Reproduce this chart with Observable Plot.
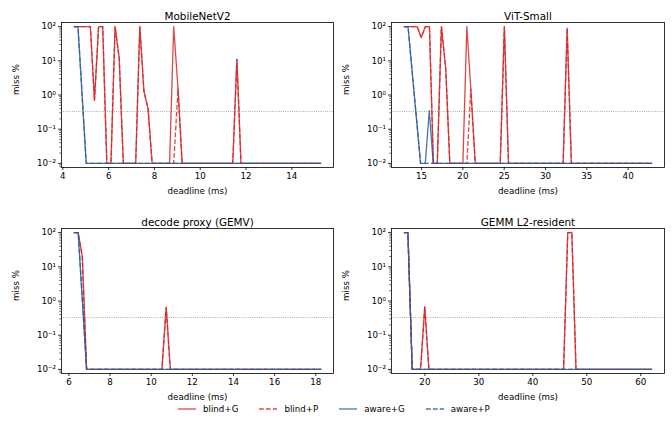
<!DOCTYPE html>
<html>
<head>
<meta charset="utf-8">
<script src="https://cdn.jsdelivr.net/npm/d3@7"></script>
<script src="https://cdn.jsdelivr.net/npm/@observablehq/plot@0.6"></script>
<style>
  html, body { margin: 0; padding: 0; background: #fff; }
  #fig { position: relative; width: 672px; height: 421px; overflow: hidden; font-family: "DejaVu Sans", sans-serif; }
  #fig > .panel { position: absolute; }
  #legend { position: absolute; left: 178px; top: 404px; display: flex; align-items: center; font-size: 8.7px; color: #000; }
  #legend .item { display: flex; align-items: center; margin-right: 21px; }
  #legend .item:last-child { margin-right: 0; }
  #legend svg { margin-right: 7px; }
</style>
</head>
<body>
<div id="fig"></div>
<script>
// ---------------- DATA ----------------
const seriesNames = ["blind+G", "blind+P", "aware+G", "aware+P"];
const panelTitles = ["MobileNetV2", "ViT-Small", "decode proxy (GEMV)", "GEMM L2-resident"];
const yTickValues = [0.01, 0.1, 1, 10, 100];
const yTickLabels = ["10\u207B\u00B2", "10\u207B\u00B9", "10\u2070", "10\u00B9", "10\u00B2"];
const missThreshold = 0.33;

// MobileNetV2
const mnv2XTicks = [4, 6, 8, 10, 12, 14];
const mnv2_blindG_x = [4.48, 5.20, 5.38, 5.56, 5.74, 5.92, 6.10, 6.28, 6.46, 6.64, 7.18, 7.36, 7.54, 7.72, 7.90, 8.66, 8.84, 9.03, 9.21, 11.42, 11.60, 11.78, 15.28];
const mnv2_blindG_y = [100, 100, 0.7, 100, 100, 0.01, 0.01, 100, 12, 0.01, 0.01, 100, 1.3, 0.4, 0.01, 0.01, 100, 1.5, 0.01, 0.01, 11, 0.01, 0.01];
const mnv2_blindP_x = [4.48, 5.20, 5.38, 5.56, 5.74, 5.92, 6.10, 6.28, 6.46, 6.64, 7.18, 7.36, 7.54, 7.72, 7.90, 8.84, 9.03, 9.21, 11.42, 11.60, 11.78, 15.28];
const mnv2_blindP_y = [100, 100, 0.7, 100, 100, 0.01, 0.01, 100, 12, 0.01, 0.01, 100, 1.3, 0.4, 0.01, 0.01, 1.5, 0.01, 0.01, 11, 0.01, 0.01];
const mnv2_awareG_x = [4.48, 4.66, 4.84, 5.02, 15.28];
const mnv2_awareG_y = [100, 100, 1.0, 0.01, 0.01];
const mnv2_awareP_x = [4.48, 4.66, 4.84, 5.02, 15.28];
const mnv2_awareP_y = [100, 100, 1.0, 0.01, 0.01];

// ViT-Small
const vitXTicks = [15, 20, 25, 30, 35, 40];
const vit_blindG_x = [12.86, 14.46, 14.96, 15.45, 15.95, 16.43, 16.90, 17.40, 17.92, 18.42, 20.00, 20.48, 20.96, 21.50, 24.52, 25.02, 25.52, 32.13, 32.62, 33.13, 42.90];
const vit_blindG_y = [100, 100, 48, 100, 100, 0.01, 0.01, 100, 6, 0.01, 0.01, 100, 1.5, 0.01, 0.01, 100, 0.01, 0.01, 90, 0.01, 0.01];
const vit_blindP_x = [12.86, 14.46, 14.96, 15.45, 15.95, 16.43, 16.90, 17.40, 17.92, 18.42, 20.48, 20.96, 21.50, 24.52, 25.02, 25.52, 32.13, 32.62, 33.13, 42.90];
const vit_blindP_y = [100, 100, 48, 100, 100, 0.01, 0.01, 100, 6, 0.01, 0.01, 1.5, 0.01, 0.01, 100, 0.01, 0.01, 90, 0.01, 0.01];
const vit_awareG_x = [12.86, 13.36, 14.88, 15.45, 15.93, 16.41, 42.90];
const vit_awareG_y = [100, 100, 0.01, 0.01, 0.35, 0.01, 0.01];
const vit_awareP_x = [12.86, 13.36, 14.88, 42.90];
const vit_awareP_y = [100, 100, 0.01, 0.01];

// decode proxy (GEMV)
const gemvXTicks = [6, 8, 10, 12, 14, 16, 18];
const gemv_blindG_x = [6.24, 6.45, 6.65, 6.86, 10.52, 10.73, 10.93, 18.26];
const gemv_blindG_y = [100, 100, 20, 0.01, 0.01, 0.65, 0.01, 0.01];
const gemv_blindP_x = [6.24, 6.45, 6.65, 6.86, 10.52, 10.73, 10.93, 18.26];
const gemv_blindP_y = [100, 100, 20, 0.01, 0.01, 0.65, 0.01, 0.01];
const gemv_awareG_x = [6.24, 6.45, 6.86, 18.26];
const gemv_awareG_y = [100, 100, 0.01, 0.01];
const gemv_awareP_x = [6.24, 6.45, 6.86, 18.26];
const gemv_awareP_y = [100, 100, 0.01, 0.01];

// GEMM L2-resident
const gemmXTicks = [20, 30, 40, 50, 60];
const gemm_blindG_x = [16.11, 16.85, 17.65, 19.20, 19.97, 20.74, 45.70, 46.47, 47.23, 48.00, 62.10];
const gemm_blindG_y = [100, 100, 0.01, 0.01, 0.68, 0.01, 0.01, 100, 100, 0.01, 0.01];
const gemm_blindP_x = [16.11, 16.85, 17.65, 19.20, 19.97, 20.74, 45.70, 46.47, 47.23, 48.00, 62.10];
const gemm_blindP_y = [100, 100, 0.01, 0.01, 0.68, 0.01, 0.01, 100, 100, 0.01, 0.01];
const gemm_awareG_x = [16.11, 16.85, 17.65, 62.10];
const gemm_awareG_y = [100, 100, 0.01, 0.01];
const gemm_awareP_x = [16.11, 16.85, 17.65, 62.10];
const gemm_awareP_y = [100, 100, 0.01, 0.01];

// ---------------- STYLE / LAYOUT ----------------
const RED = "#d62728", BLUE = "#2c5d9e";
const seriesStyle = {
  "blind+G": {stroke: RED, dash: null},
  "blind+P": {stroke: RED, dash: "4.8,2.1"},
  "aware+G": {stroke: BLUE, dash: null},
  "aware+P": {stroke: BLUE, dash: "4.8,2.1"}
};

function rows(xs, ys) { return xs.map((x, i) => ({deadline: x, miss: ys[i]})); }

const panels = [
  {title: panelTitles[0], ticks: mnv2XTicks, domain: [3.94, 15.82],
   series: [rows(mnv2_blindG_x, mnv2_blindG_y), rows(mnv2_blindP_x, mnv2_blindP_y), rows(mnv2_awareG_x, mnv2_awareG_y), rows(mnv2_awareP_x, mnv2_awareP_y)],
   left: 0, top: 0, width: 336, height: 205, mL: 61, mR: 3, mT: 22, mB: 38},
  {title: panelTitles[1], ticks: vitXTicks, domain: [11.36, 44.40],
   series: [rows(vit_blindG_x, vit_blindG_y), rows(vit_blindP_x, vit_blindP_y), rows(vit_awareG_x, vit_awareG_y), rows(vit_awareP_x, vit_awareP_y)],
   left: 336, top: 0, width: 336, height: 205, mL: 55, mR: 8, mT: 22, mB: 38},
  {title: panelTitles[2], ticks: gemvXTicks, domain: [5.64, 18.86],
   series: [rows(gemv_blindG_x, gemv_blindG_y), rows(gemv_blindP_x, gemv_blindP_y), rows(gemv_awareG_x, gemv_awareG_y), rows(gemv_awareP_x, gemv_awareP_y)],
   left: 0, top: 205, width: 336, height: 216, mL: 61, mR: 3, mT: 23, mB: 48},
  {title: panelTitles[3], ticks: gemmXTicks, domain: [13.81, 64.40],
   series: [rows(gemm_blindG_x, gemm_blindG_y), rows(gemm_blindP_x, gemm_blindP_y), rows(gemm_awareG_x, gemm_awareG_y), rows(gemm_awareP_x, gemm_awareP_y)],
   left: 336, top: 205, width: 336, height: 216, mL: 55, mR: 8, mT: 23, mB: 48}
];

const yDomain = [Math.pow(10, -2.12), Math.pow(10, 2.12)];
const minorTicks = [];
for (let k = -3; k <= 2; k++) for (let m = 2; m <= 9; m++) {
  const v = m * Math.pow(10, k);
  if (v > yDomain[0] && v < yDomain[1]) minorTicks.push(v);
}

const fig = document.getElementById("fig");
for (const p of panels) {
  const lineMarks = p.series.map((data, i) => {
    const st = seriesStyle[seriesNames[i]];
    return Plot.line(data, {x: "deadline", y: "miss", stroke: st.stroke, strokeWidth: 1.3,
      strokeOpacity: 0.85, strokeDasharray: st.dash || undefined, strokeLinejoin: "round", strokeLinecap: "butt"});
  });
  const chart = Plot.plot({
    width: p.width, height: p.height,
    marginLeft: p.mL, marginRight: p.mR, marginTop: p.mT, marginBottom: p.mB,
    style: {fontFamily: "DejaVu Sans", fontSize: "8.7px", background: "transparent", color: "#000", overflow: "visible"},
    x: {domain: p.domain},
    y: {type: "log", domain: yDomain},
    marks: [
      Plot.ruleY([missThreshold], {stroke: "#808080", strokeWidth: 0.8, strokeDasharray: "0.8,1.4"}),
      ...lineMarks,
      Plot.frame({stroke: "#000", strokeWidth: 0.8}),
      Plot.axisX({ticks: p.ticks, tickSize: 3, tickPadding: 2.5, tickFormat: d => String(d), label: null, strokeWidth: 0.8}),
      Plot.axisY({ticks: yTickValues, tickSize: 3, tickPadding: 2.5, tickFormat: d => yTickLabels[yTickValues.indexOf(d)], label: null, strokeWidth: 0.8}),
      Plot.axisY({ticks: minorTicks, tickSize: 1.7, tickFormat: () => "", label: null, strokeWidth: 0.6}),
      Plot.text([p.title], {frameAnchor: "top", dy: -10, fontSize: 10.4}),
      Plot.text(["deadline (ms)"], {frameAnchor: "bottom", dy: 26}),
      Plot.text(["miss %"], {frameAnchor: "left", dx: -45, rotate: -90})
    ]
  });
  chart.classList.add("panel");
  chart.style.left = p.left + "px";
  chart.style.top = p.top + "px";
  fig.appendChild(chart);
}

// legend
const legend = document.createElement("div");
legend.id = "legend";
for (const name of seriesNames) {
  const st = seriesStyle[name];
  const item = document.createElement("div");
  item.className = "item";
  item.innerHTML = `<svg width="18" height="8"><line x1="0" y1="4" x2="18" y2="4" stroke="${st.stroke}" stroke-opacity="0.85" stroke-width="1.3" ${st.dash ? `stroke-dasharray="${st.dash}"` : ""}/></svg><span>${name}</span>`;
  legend.appendChild(item);
}
fig.appendChild(legend);
</script>
</body>
</html>
